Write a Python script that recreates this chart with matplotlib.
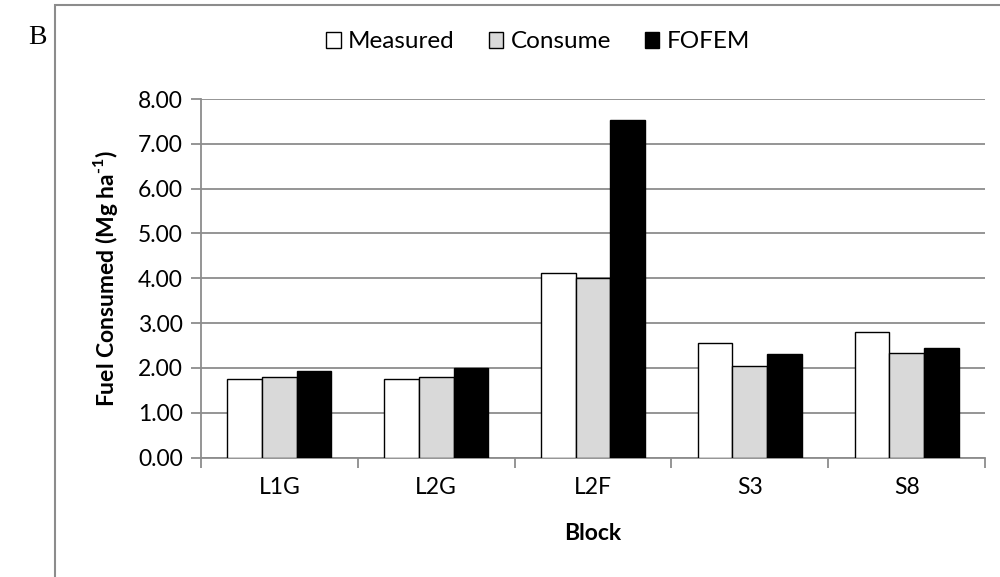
import matplotlib
matplotlib.use("Agg")
import matplotlib.pyplot as plt
import numpy as np
from matplotlib.patches import Rectangle

categories = ["L1G", "L2G", "L2F", "S3", "S8"]
measured = [1.76, 1.76, 4.12, 2.55, 2.79]
consume = [1.80, 1.80, 4.01, 2.04, 2.33]
fofem = [1.93, 1.99, 7.54, 2.32, 2.44]
series_names = ["Measured", "Consume", "FOFEM"]
series_colors = ["white", "#d9d9d9", "black"]
yticks = [0, 1, 2, 3, 4, 5, 6, 7, 8]

plt.rcParams['font.family'] = ['Lato', 'DejaVu Sans']
plt.rcParams['mathtext.fontset'] = 'custom'
plt.rcParams['mathtext.rm'] = 'Lato:bold'
plt.rcParams['mathtext.bf'] = 'Lato:bold'

fig = plt.figure(figsize=(10, 5.77), dpi=100)
W, H = 1000, 577
ax = fig.add_axes([201 / W, 1 - 457.5 / H, (985 - 201) / W, (457.5 - 99) / H])

# outer frame
fig.patches.append(Rectangle((55 / W, -0.1), 1.0, 1 - 5 / H + 0.1, transform=fig.transFigure,
                             fill=False, edgecolor="#8c8c8c", linewidth=1.5))
fig.text(37 / W, 1 - 38 / H, "B", fontsize=20, family="Liberation Serif", ha="center", va="center")

x = np.arange(len(categories))
bw = 0.221
for i, (vals, name, col) in enumerate(zip([measured, consume, fofem], series_names, series_colors)):
    ax.bar(x + (i - 1) * bw, vals, width=bw, color=col, edgecolor="black", linewidth=1.0,
           label=name, zorder=3)

fs = 16.5
ax.set_ylim(0, 8)
ax.set_xlim(-0.5, len(categories) - 0.5)
ax.set_yticks(yticks)
ax.set_yticklabels([f"{v:.2f}" for v in yticks], fontsize=fs)
ax.yaxis.grid(True, color="#8c8c8c", linewidth=1.3, zorder=0)
ax.set_axisbelow(True)

ax.set_xticks(np.arange(-0.5, len(categories)), minor=False)
ax.set_xticklabels([])
ax.set_xticks(x, minor=True)
ax.set_xticklabels(categories, minor=True, fontsize=fs)
ax.tick_params(axis="x", which="major", direction="out", length=7, color="#8c8c8c", width=1.3)
ax.tick_params(axis="x", which="minor", length=0, pad=14)
ax.tick_params(axis="y", direction="out", length=7, color="#8c8c8c", width=1.3, pad=6)

for s in ["top", "right"]:
    ax.spines[s].set_visible(False)
for s in ["left", "bottom"]:
    ax.spines[s].set_color("#8c8c8c")
    ax.spines[s].set_linewidth(1.3)

ax.set_ylabel("Fuel Consumed (Mg ha$^{\\text{-1}}$)", fontsize=fs, fontweight="bold", labelpad=13)
ax.set_xlabel("Block", fontsize=fs, fontweight="bold", labelpad=18)

handles, labels = ax.get_legend_handles_labels()
fig.legend(handles, labels, loc="center", bbox_to_anchor=(538 / W, 1 - 42 / H), ncol=3,
           frameon=False, fontsize=17.5, handlelength=0.6, handleheight=0.6,
           handletextpad=0.3, columnspacing=1.4)

fig.savefig("out.png", dpi=100)
